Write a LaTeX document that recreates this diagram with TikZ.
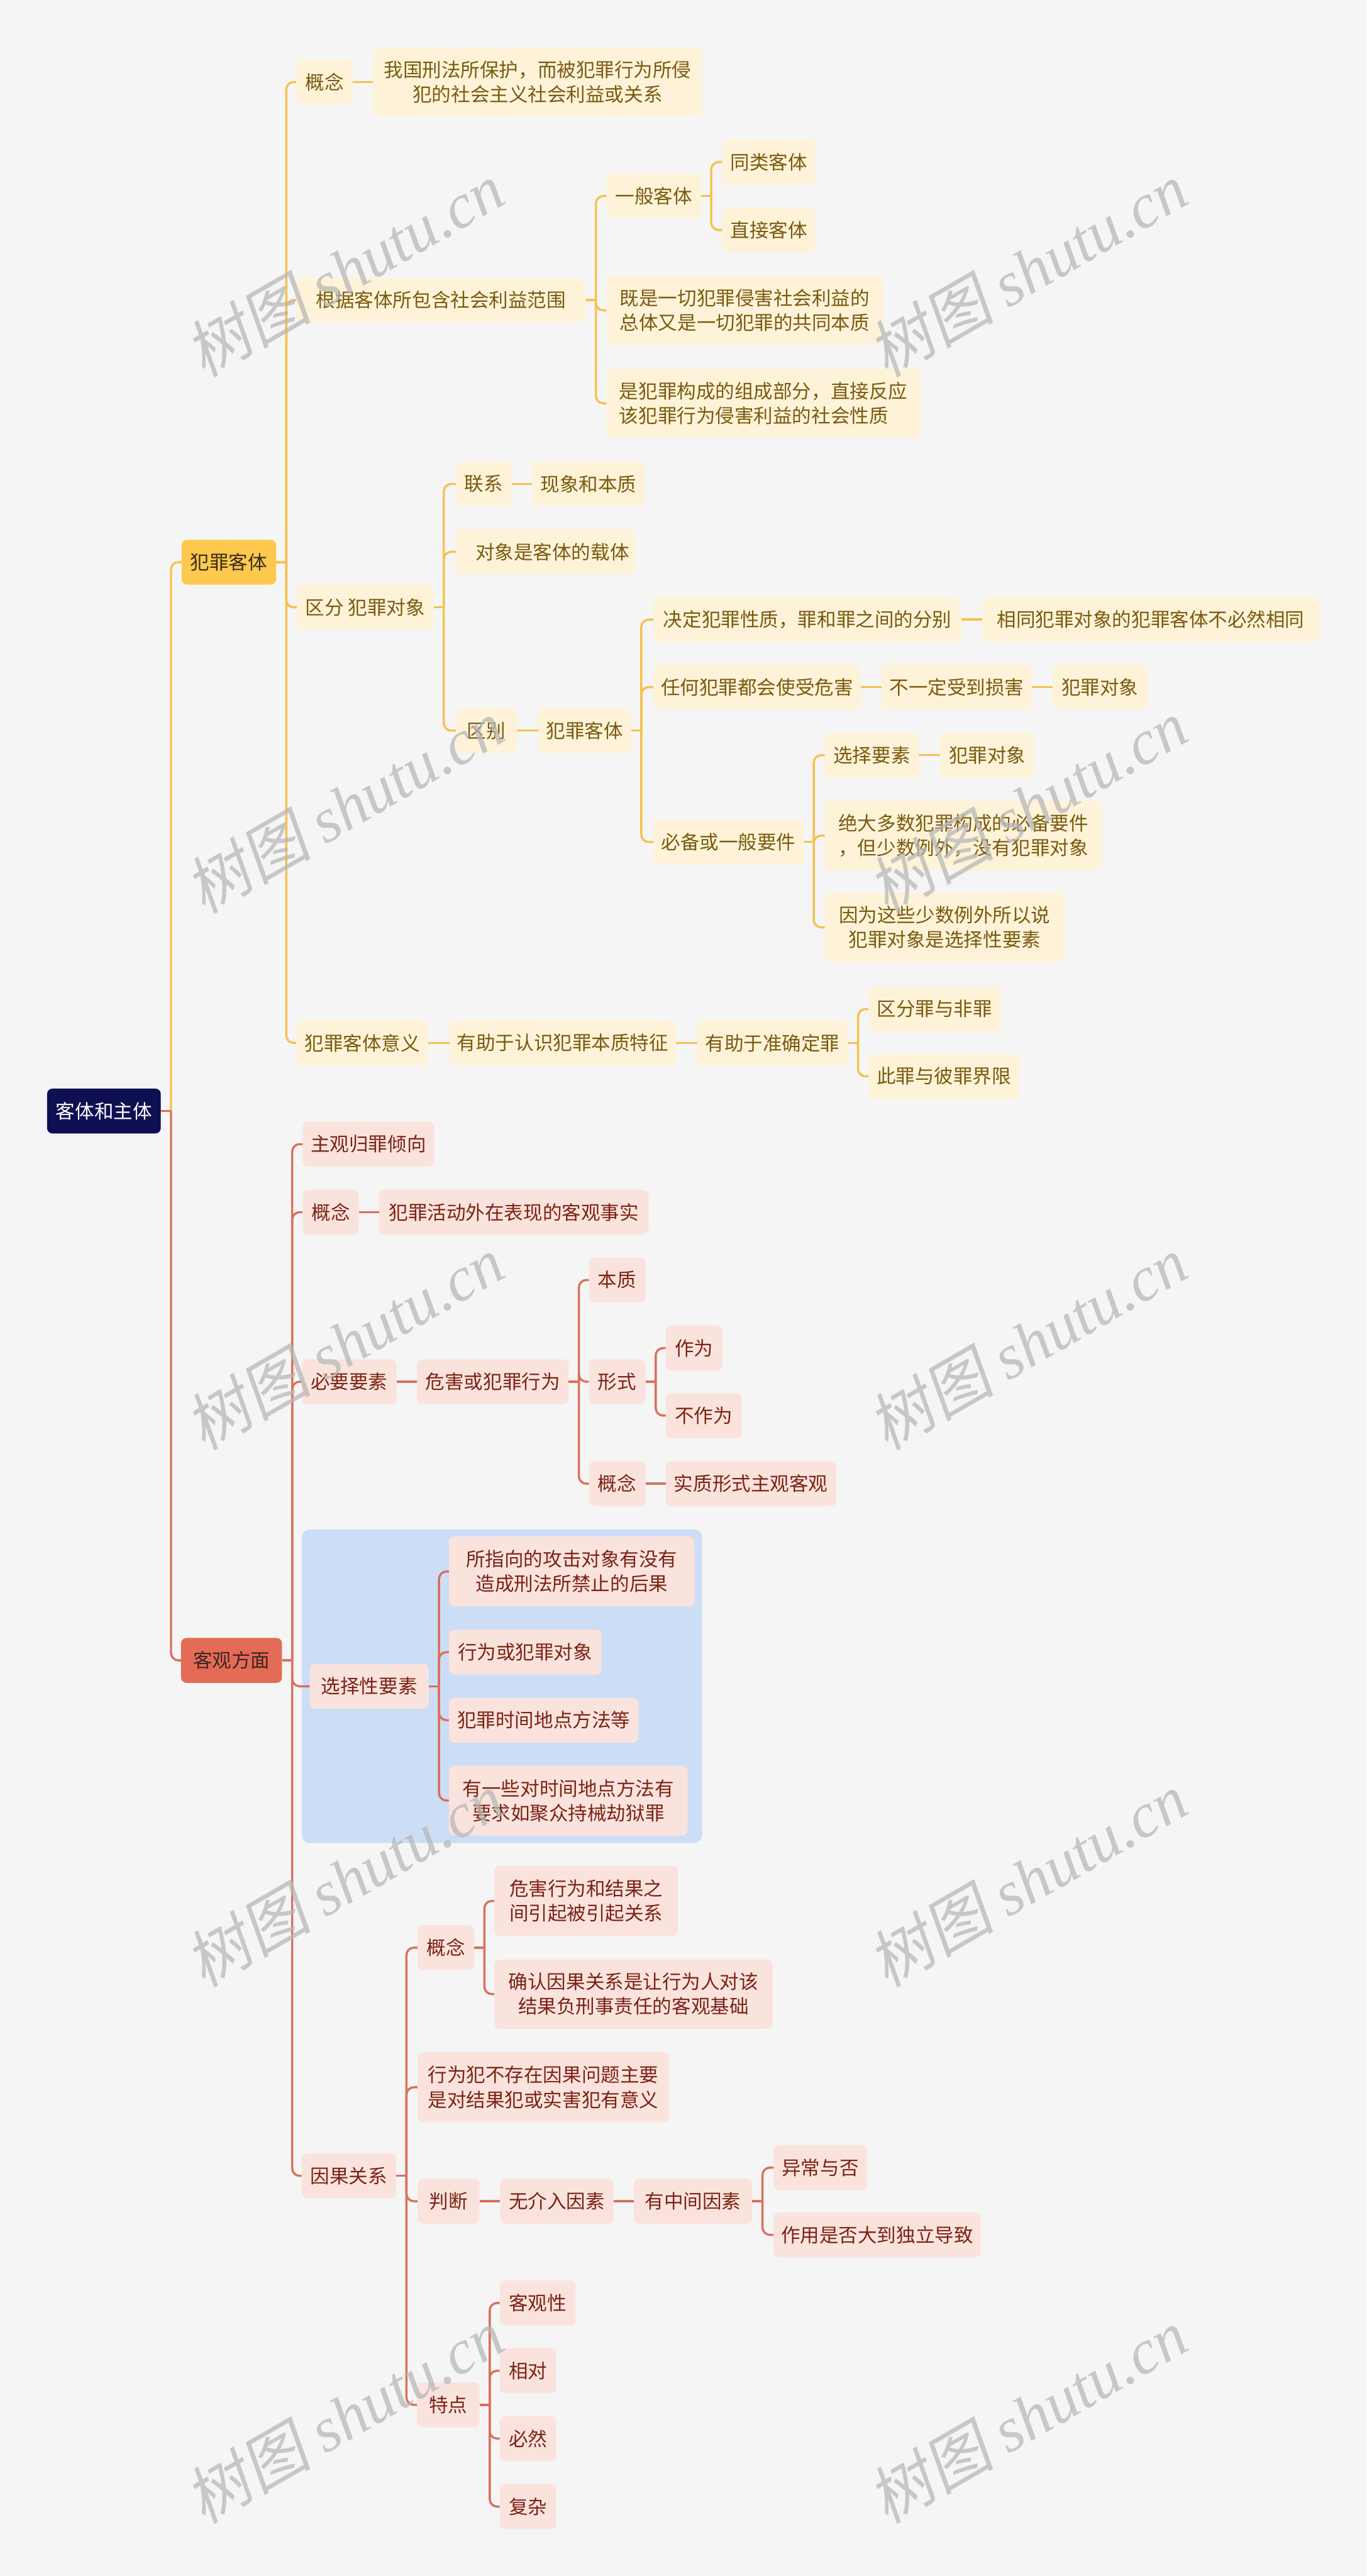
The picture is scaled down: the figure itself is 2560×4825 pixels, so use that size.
\documentclass[tikz,border=0pt]{standalone}
\usepackage{fontspec}
\setmainfont{Noto Sans CJK SC}
\newfontfamily\wmlat{Liberation Serif}
\newfontfamily\wmcjk{Noto Sans CJK SC}[FakeSlant=0.18]
\usetikzlibrary{calc}
\definecolor{bgc}{HTML}{F5F5F5}
\definecolor{ylline}{HTML}{F5C24C}
\definecolor{ylfill}{HTML}{FEF3D8}
\definecolor{yltext}{HTML}{7A5A10}
\definecolor{ylmain}{HTML}{FFC94F}
\definecolor{ylmtext}{HTML}{3A2E12}
\definecolor{rdline}{HTML}{D9705C}
\definecolor{rdfill}{HTML}{FBE3DD}
\definecolor{rdtext}{HTML}{7A2315}
\definecolor{rdmain}{HTML}{E46B56}
\definecolor{rdmtext}{HTML}{3E2420}
\definecolor{rootc}{HTML}{0E0F52}
\definecolor{bluec}{HTML}{CCDDF6}
\definecolor{wmc}{HTML}{B8B8B8}
\tikzset{
  nbox/.style={rounded corners=10pt, inner xsep=6pt, inner ysep=0pt, minimum height=84,
    font=\fontsize{36}{46}\selectfont, align=center},
  yb/.style={nbox, fill=ylfill, text=yltext},
  rbx/.style={nbox, fill=rdfill, text=rdtext},
  yl/.style={draw=ylline, line width=4pt},
  rl/.style={draw=rdline, line width=4pt},
  wm/.style={text=wmc, opacity=0.75, font=\fontsize{118}{128}\selectfont, inner sep=0pt}
}
% node: [opts]{style}{name}{x,y}{width}{text}
\newcommand\nd[6][]{\node[#2,anchor=west,minimum width=#5,#1] (#3) at (#4) {#6};}
% tree link
\newcommand\lk[3]{\draw[#1] (#2.east) -- ++(19,0);
  \draw[#1,rounded corners=14pt] ($(#2.east)+(19,0)$) |- (#3.west);}
% chain link
\newcommand\chn[3]{\draw[#1] (#2.east) -- (#3.west);}
\begin{document}
\begin{tikzpicture}[x=1pt,y=-1pt]
\useasboundingbox (0,0) rectangle (2560,4825);
\fill[bgc] (0,0) rectangle (2560,4825);
\fill[bluec, rounded corners=14pt] (566,2865) rectangle (1315,3452);

% main nodes
\node[nbox, fill=rootc, text=white, minimum width=213, anchor=west] (root) at (88,2081) {客体和主体};
\node[nbox, fill=ylmain, text=ylmtext, minimum width=177, anchor=west] (kt) at (340,1053) {犯罪客体};
\node[nbox, fill=rdmain, text=rdmtext, minimum width=189, anchor=west] (kg) at (339,3110) {客观方面};

% yellow branch
\nd{yb}{gA}{555,153.5}{106}{概念}
\nd[minimum height=129]{yb}{gAd}{699,153.5}{616}{我国刑法所保护，而被犯罪行为所侵\\犯的社会主义社会利益或关系}
\nd{yb}{gB}{555,562}{542}{根据客体所包含社会利益范围}
\nd{yb}{gB1}{1136,367}{177}{一般客体}
\nd{yb}{gB11}{1353,303.5}{174}{同类客体}
\nd{yb}{gB12}{1353,431}{174}{直接客体}
\nd[minimum height=129]{yb}{gB2}{1136,581.5}{518}{既是一切犯罪侵害社会利益的\\总体又是一切犯罪的共同本质}
\nd[minimum height=129,align=left]{yb}{gB3}{1136,755.5}{588}{是犯罪构成的组成部分，直接反应\\该犯罪行为侵害利益的社会性质}
\nd{yb}{gC}{556,1137.5}{256}{区分 犯罪对象}
\nd{yb}{gC1}{854,906.5}{104}{联系}
\nd{yb}{gC1a}{997,906.5}{211}{现象和本质}
\nd{yb}{gC2}{854,1033.5}{337}{\hspace*{24pt}对象是客体的载体}
\nd{yb}{gC3}{854,1368.5}{114}{区别}
\nd{yb}{gC3a}{1008,1368.5}{174}{犯罪客体}
\nd{yb}{gD1}{1224,1160.5}{577}{决定犯罪性质，罪和罪之间的分别}
\nd{yb}{gD1a}{1840,1160.5}{631}{相同犯罪对象的犯罪客体不必然相同}
\nd{yb}{gD2}{1224,1287}{388}{任何犯罪都会使受危害}
\nd{yb}{gD2a}{1651,1287}{282}{不一定受到损害}
\nd{yb}{gD2b}{1972,1287}{177}{犯罪对象}
\nd{yb}{gD3}{1224,1577}{281}{必备或一般要件}
\nd{yb}{gD31}{1545,1414.5}{176}{选择要素}
\nd{yb}{gD31a}{1761,1414.5}{177}{犯罪对象}
\nd[minimum height=130]{yb}{gD32}{1545,1565}{519}{绝大多数犯罪构成的必备要件\\，但少数例外，没有犯罪对象}
\nd[minimum height=130]{yb}{gD33}{1545,1737}{449}{因为这些少数例外所以说\\犯罪对象是选择性要素}
\nd{yb}{gE}{555,1953.5}{247}{犯罪客体意义}
\nd{yb}{gE1}{842,1953.5}{424}{有助于认识犯罪本质特征}
\nd{yb}{gE2}{1306,1953.5}{282}{有助于准确定罪}
\nd{yb}{gE21}{1627,1890}{247}{区分罪与非罪}
\nd{yb}{gE22}{1627,2016}{282}{此罪与彼罪界限}

% red branch
\nd{rbx}{rA}{567,2143}{246}{主观归罪倾向}
\nd{rbx}{rB}{567,2270.5}{105}{概念}
\nd{rbx}{rBa}{710,2270.5}{505}{犯罪活动外在表现的客观事实}
\nd{rbx}{rC}{565,2588}{178}{必要要素}
\nd{rbx}{rCa}{781,2588}{284}{危害或犯罪行为}
\nd{rbx}{rC1}{1103,2397.5}{106}{本质}
\nd{rbx}{rC2}{1103,2588}{106}{形式}
\nd{rbx}{rC21}{1247,2525}{106}{作为}
\nd{rbx}{rC22}{1247,2651.5}{142}{不作为}
\nd{rbx}{rC3}{1103,2779}{106}{概念}
\nd{rbx}{rC3a}{1247,2779}{319}{实质形式主观客观}
\nd{rbx}{rD}{580,3158.5}{223}{选择性要素}
\nd[minimum height=131]{rbx}{rD1}{841,2943.5}{460}{所指向的攻击对象有没有\\造成刑法所禁止的后果}
\nd{rbx}{rD2}{841,3094.5}{285}{行为或犯罪对象}
\nd{rbx}{rD3}{841,3222}{355}{犯罪时间地点方法等}
\nd[minimum height=131]{rbx}{rD4}{841,3372.5}{447}{有一些对时间地点方法有\\要求如聚众持械劫狱罪}
\nd{rbx}{rE}{565,4075.5}{177}{因果关系}
\nd{rbx}{rE1}{782,3648}{106}{概念}
\nd[minimum height=131]{rbx}{rE11}{926,3560.5}{344}{危害行为和结果之\\间引起被引起关系}
\nd[minimum height=130]{rbx}{rE12}{926,3735}{521}{确认因果关系是让行为人对该\\结果负刑事责任的客观基础}
\nd[minimum height=131]{rbx}{rE2}{782,3909.5}{471}{行为犯不存在因果问题主要\\是对结果犯或实害犯有意义}
\nd{rbx}{rE3}{782,4123}{116}{判断}
\nd{rbx}{rE3a}{937,4123}{212}{无介入因素}
\nd{rbx}{rE3b}{1187,4123}{222}{有中间因素}
\nd{rbx}{rE31}{1449,4060}{175}{异常与否}
\nd{rbx}{rE32}{1449,4186}{388}{作用是否大到独立导致}
\nd{rbx}{rE4}{781,4504.5}{117}{特点}
\nd{rbx}{rE41}{936,4313.5}{142}{客观性}
\nd{rbx}{rE42}{936,4440.5}{106}{相对}
\nd{rbx}{rE43}{936,4567.5}{106}{必然}
\nd{rbx}{rE44}{936,4695}{106}{复杂}

% yellow links
\lk{yl}{root}{kt}
\lk{yl}{kt}{gA}\lk{yl}{kt}{gB}\lk{yl}{kt}{gC}\lk{yl}{kt}{gE}
\chn{yl}{gA}{gAd}
\lk{yl}{gB}{gB1}\lk{yl}{gB}{gB2}\lk{yl}{gB}{gB3}
\lk{yl}{gB1}{gB11}\lk{yl}{gB1}{gB12}
\lk{yl}{gC}{gC1}\lk{yl}{gC}{gC2}\lk{yl}{gC}{gC3}
\chn{yl}{gC1}{gC1a}\chn{yl}{gC3}{gC3a}
\lk{yl}{gC3a}{gD1}\lk{yl}{gC3a}{gD2}\lk{yl}{gC3a}{gD3}
\chn{yl}{gD1}{gD1a}\chn{yl}{gD2}{gD2a}\chn{yl}{gD2a}{gD2b}
\lk{yl}{gD3}{gD31}\lk{yl}{gD3}{gD32}\lk{yl}{gD3}{gD33}
\chn{yl}{gD31}{gD31a}
\chn{yl}{gE}{gE1}\chn{yl}{gE1}{gE2}
\lk{yl}{gE2}{gE21}\lk{yl}{gE2}{gE22}

% red links
\lk{rl}{root}{kg}
\lk{rl}{kg}{rA}\lk{rl}{kg}{rB}\lk{rl}{kg}{rC}\lk{rl}{kg}{rD}\lk{rl}{kg}{rE}
\chn{rl}{rB}{rBa}\chn{rl}{rC}{rCa}
\lk{rl}{rCa}{rC1}\lk{rl}{rCa}{rC2}\lk{rl}{rCa}{rC3}
\lk{rl}{rC2}{rC21}\lk{rl}{rC2}{rC22}
\chn{rl}{rC3}{rC3a}
\lk{rl}{rD}{rD1}\lk{rl}{rD}{rD2}\lk{rl}{rD}{rD3}\lk{rl}{rD}{rD4}
\lk{rl}{rE}{rE1}\lk{rl}{rE}{rE2}\lk{rl}{rE}{rE3}\lk{rl}{rE}{rE4}
\lk{rl}{rE1}{rE11}\lk{rl}{rE1}{rE12}
\chn{rl}{rE3}{rE3a}\chn{rl}{rE3a}{rE3b}
\lk{rl}{rE3b}{rE31}\lk{rl}{rE3b}{rE32}
\lk{rl}{rE4}{rE41}\lk{rl}{rE4}{rE42}\lk{rl}{rE4}{rE43}\lk{rl}{rE4}{rE44}

% watermarks
\foreach \wy in {505,1510,2515,3520,4525}{
  \foreach \wx in {645,1925}{
    \node[wm, rotate=30] (wm-\wx-\wy) at (\wx,\wy) {{\wmcjk 树图} {\wmlat\itshape shutu.cn}};
  }
}
\end{tikzpicture}
\end{document}
